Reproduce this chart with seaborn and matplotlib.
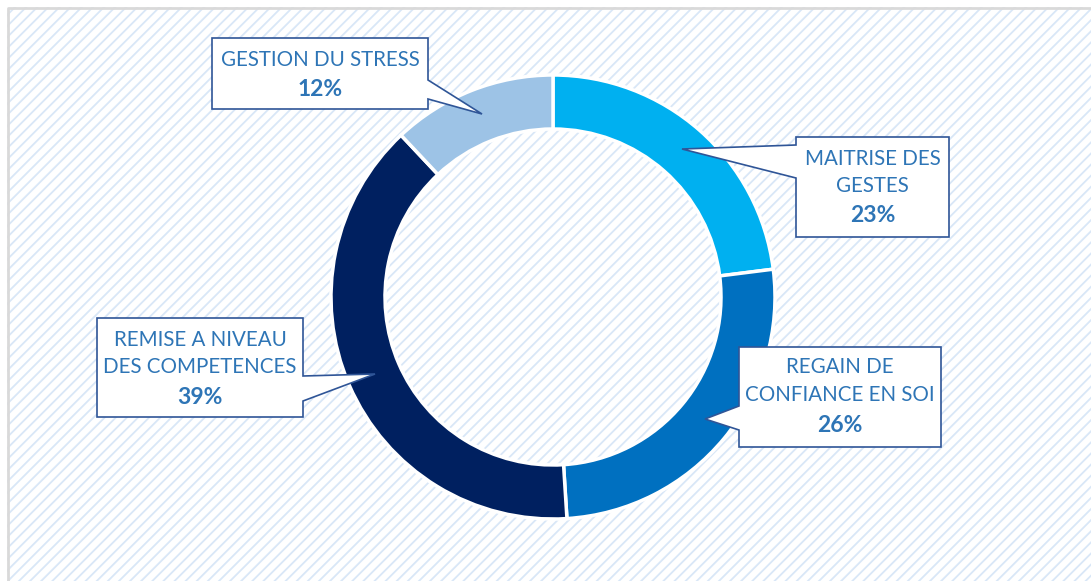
import seaborn as sns
from matplotlib import pyplot as plt
from matplotlib.patches import Polygon, Rectangle

# data
categories = ["MAITRISE DES\nGESTES", "REGAIN DE\nCONFIANCE EN SOI",
              "REMISE A NIVEAU\nDES COMPETENCES", "GESTION DU STRESS"]
shares = [23, 26, 39, 12]
colors = ["#00B0F0", "#0070C0", "#002060", "#9DC3E6"]

W, H = 1091, 581

sns.set_theme(style="white")
plt.rcParams["font.family"] = ["Lato", "DejaVu Sans"]
plt.rcParams["hatch.linewidth"] = 1.3

fig = plt.figure(figsize=(W / 100, H / 100), dpi=100)
ax = fig.add_axes([0, 0, 1, 1])


def fy(y):
    # pixel row (from top) -> data y
    return H - y


# hatched chart area with grey frame
ax.add_patch(Rectangle((7, fy(W)), W, fy(7) - fy(W), facecolor="white",
                       edgecolor="#D9E7F7", hatch="///", linewidth=0, zorder=0))
ax.plot([7.5, 7.5, W], [0, fy(7.5), fy(7.5)], color="#D9D9D9", lw=2, zorder=1)

# donut
ax.pie(shares, colors=colors, startangle=90, counterclock=False,
       center=(553, fy(297)), radius=222, frame=True,
       wedgeprops=dict(width=54, edgecolor="white", linewidth=2.5))
ax.set_xlim(0, W)
ax.set_ylim(0, H)
ax.set_aspect("equal")
ax.axis("off")

# callout boxes: (x0, y0, x1, y1), pointer side, base (ya, yb), tip, text rows
callouts = [
    ((796, 137, 949, 237), "left", (145, 178), (682, 149), (159, 186, 216)),
    ((739, 347, 941, 447), "left", (406, 430), (705, 419), (367, 395, 425)),
    ((97, 318, 303, 417), "right", (376, 401), (375, 374), (340, 367, 397)),
    ((212, 38, 428, 109), "right", (80, 99), (482, 114), (60, 90)),
]

for (box, side, base, tip, rows), cat, val in zip(callouts, categories, shares):
    x0, y0, x1, y1 = box
    if side == "left":
        pts = [(x0, y0), (x1, y0), (x1, y1), (x0, y1), (x0, base[1]), tip, (x0, base[0])]
    else:
        pts = [(x0, y0), (x1, y0), (x1, base[0]), tip, (x1, base[1]), (x1, y1), (x0, y1)]
    pts = [(px, fy(py)) for px, py in pts]
    ax.add_patch(Polygon(pts, closed=True, facecolor="white", edgecolor="#2F5597",
                         linewidth=1.2, zorder=5))
    cx = (x0 + x1) / 2
    for ln, ry in zip(cat.split("\n"), rows):
        ax.text(cx, fy(ry), ln, ha="center", va="center", fontsize=14.8,
                color="#2E75B6", zorder=6)
    ax.text(cx, fy(rows[-1]), f"{val}%", ha="center", va="center", fontsize=16.5,
            fontweight="bold", color="#2E75B6", zorder=6)

fig.savefig("out.png", dpi=100)
